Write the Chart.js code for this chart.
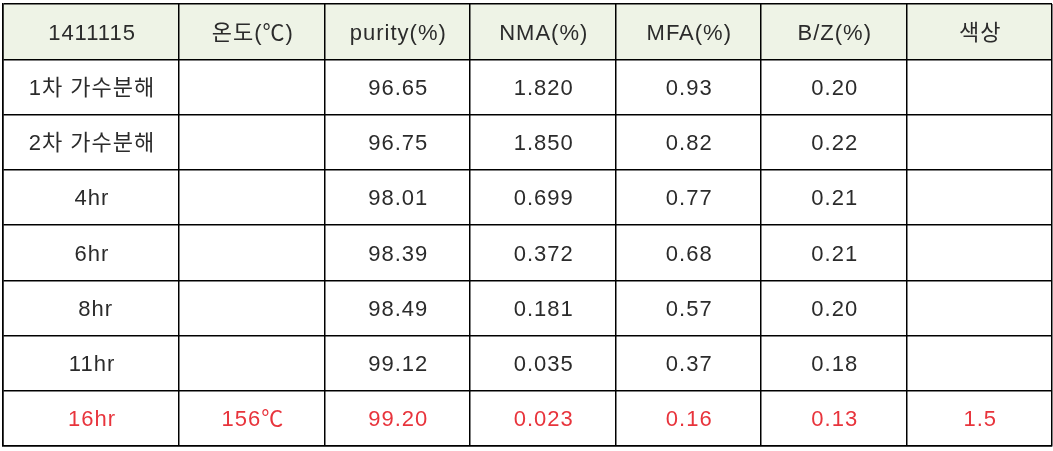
<!DOCTYPE html>
<html>
<head>
<meta charset="utf-8">
<script src="https://cdn.jsdelivr.net/npm/chart.js@4.4.1/dist/chart.umd.min.js"></script>
<style>
  body { margin: 0; background: #fff; }
  #wrap { width: 1053px; height: 451px; }
</style>
</head>
<body>
<div id="wrap"><canvas id="tableChart"></canvas></div>
<script>
// table data
const header = ['1411115', '온도(℃)', 'purity(%)', 'NMA(%)', 'MFA(%)', 'B/Z(%)', '색상'];
const samples = ['1차 가수분해', '2차 가수분해', '4hr', '6hr', ' 8hr', '11hr', '16hr'];
const temperature = ['', '', '', '', '', '', '156℃'];
const purity = [96.65, 96.75, 98.01, 98.39, 98.49, 99.12, 99.20];
const nma = [1.820, 1.850, 0.699, 0.372, 0.181, 0.035, 0.023];
const mfa = [0.93, 0.82, 0.77, 0.68, 0.57, 0.37, 0.16];
const bz = [0.20, 0.22, 0.21, 0.21, 0.20, 0.18, 0.13];
const colorGrade = ['', '', '', '', '', '', '1.5'];
const highlightRow = 6; // last row is red

// layout
const colWeights = [1.21, 1, 1, 1, 1, 1, 1];
const edges = [0];
colWeights.forEach(w => edges.push(edges[edges.length - 1] + w));
const centers = colWeights.map((w, i) => edges[i] + w / 2);
const nRows = samples.length + 1;

// one invisible point per cell, the text is drawn at the point
const cells = [];
header.forEach((h, c) => cells.push({ x: centers[c], y: 0.5, text: h, head: true }));
samples.forEach((s, r) => {
    const row = [s, temperature[r], purity[r].toFixed(2), nma[r].toFixed(3),
                 mfa[r].toFixed(2), bz[r].toFixed(2), colorGrade[r]];
    row.forEach((t, c) => cells.push({ x: centers[c], y: r + 1.5, text: t, red: r === highlightRow }));
});

const headerFill = {
    id: 'headerFill',
    beforeDraw(chart) {
        const { ctx, chartArea, scales } = chart;
        const top = scales.y.getPixelForValue(0);
        const bottom = scales.y.getPixelForValue(1);
        ctx.save();
        ctx.fillStyle = '#eef3e6';
        ctx.fillRect(chartArea.left, top, chartArea.right - chartArea.left, bottom - top);
        ctx.restore();
    }
};

const cellText = {
    id: 'cellText',
    afterDatasetsDraw(chart) {
        const ctx = chart.ctx;
        const meta = chart.getDatasetMeta(0);
        ctx.save();
        ctx.font = '22px "Liberation Sans", "Noto Sans CJK KR", sans-serif';
        ctx.letterSpacing = '1px';
        ctx.textAlign = 'center';
        ctx.textBaseline = 'middle';
        meta.data.forEach((pt, i) => {
            const cell = cells[i];
            if (!cell.text) return;
            ctx.fillStyle = cell.red ? '#e8343c' : '#2b2b2b';
            ctx.fillText(cell.text, pt.x + 1, pt.y + 2);
        });
        ctx.restore();
    }
};

new Chart(document.getElementById('tableChart'), {
    type: 'scatter',
    data: {
        datasets: [{
            data: cells,
            pointRadius: 0,
            pointHoverRadius: 0
        }]
    },
    options: {
        responsive: true,
        maintainAspectRatio: false,
        animation: false,
        events: [],
        layout: { padding: { left: 3, top: 4, right: 1, bottom: 5 } },
        plugins: { legend: { display: false }, tooltip: { enabled: false } },
        scales: {
            x: {
                type: 'linear',
                min: 0,
                max: edges[edges.length - 1],
                afterBuildTicks: scale => { scale.ticks = edges.map(v => ({ value: v })); },
                ticks: { display: false },
                grid: { color: '#000', lineWidth: 1.5, drawTicks: false },
                border: { color: '#000', width: 1.5 }
            },
            y: {
                type: 'linear',
                min: 0,
                max: nRows,
                reverse: true,
                ticks: { display: false, stepSize: 1 },
                grid: { color: '#000', lineWidth: 1.5, drawTicks: false },
                border: { color: '#000', width: 1.5 }
            }
        }
    },
    plugins: [headerFill, cellText]
});
</script>
</body>
</html>
